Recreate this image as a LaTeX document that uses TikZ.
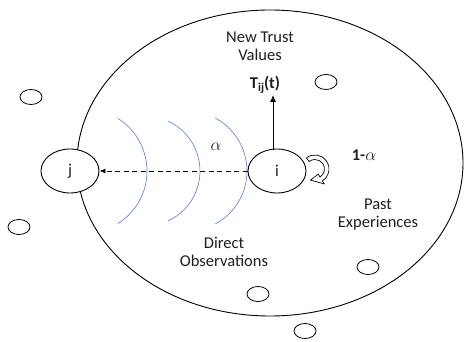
\documentclass[tikz,border=0pt]{standalone}
\usepackage{fontspec}
\setmainfont{Carlito}
\usetikzlibrary{shapes.geometric,arrows.meta,calc}
\definecolor{wave}{RGB}{95,125,190}
\definecolor{ink}{RGB}{30,30,30}
\begin{document}
\begin{tikzpicture}[x=1pt,y=-1pt,
  every node/.style={font=\fontsize{16.5}{18}\selectfont, text=ink},
  bignode/.style={ellipse, draw=black, line width=0.9pt, fill=white, minimum width=58pt, minimum height=44pt, inner sep=0pt},
  small/.style={ellipse, draw=black, line width=0.8pt, minimum width=22pt, minimum height=15pt, inner sep=0pt},
  label/.style={align=center, inner sep=0pt},
  waveline/.style={draw=wave, line width=0.6pt}]
\useasboundingbox (0,0) rectangle (464,342);
% big region
\draw[line width=0.9pt] (270,163) ellipse [x radius=193, y radius=153];
% waves
\draw[waveline] (85,171) ++(-58:62) arc[start angle=-58, end angle=58, radius=62];
\draw[waveline] (145,171) ++(-65:55) arc[start angle=-65, end angle=65, radius=55];
\draw[waveline] (187,171) ++(-62:60) arc[start angle=-62, end angle=62, radius=60];
% nodes
\node[bignode] (j) at (70,171) {j};
\node[bignode] (i) at (277,171) {i};
% small nodes
\node[small] (s1) at (31,97) {};
\node[small] (s2) at (326,82) {};
\node[small] (s3) at (19,227) {};
\node[small] (s4) at (368,267) {};
\node[small] (s5) at (258,294) {};
\node[small] (s6) at (305,331) {};
% labels
\node[label] (ntv) at (260,46) {New Trust\\Values};
\node[label] (T) at (265,85) {\bfseries T\raisebox{-3.5pt}{\fontsize{12}{12}\selectfont ij}(t)};
\node[label] (a) at (216,147) {$\alpha$};
\node[label] (b) at (364,155) {\bfseries 1-$\alpha$};
\node[label] (pe) at (378,215) {Past\\Experiences};
\node[label] (do) at (224,252) {Direct\\Observations};
% connectors
\coordinate (tip) at (273,95);
\coordinate (base) at (273,150);
\draw[line width=0.9pt, -{Latex[length=7pt,width=6pt]}] (base) -- (tip);
\draw[line width=0.9pt, dash pattern=on 5pt off 3.5pt, -{Latex[length=6pt,width=5pt]}] (i.west) -- (j.east);
% self loop block arrow
\coordinate (lc) at (315,169);
\draw[line width=0.7pt, fill=white] ($(lc)+(-128:14)$)
  arc[start angle=-128, end angle=58, radius=14]
  -- ($(lc)+(58:17.5)$) -- ($(lc)+(112:12)$) -- ($(lc)+(58:6)$) -- ($(lc)+(58:9.5)$)
  arc[start angle=58, end angle=-128, radius=9.5] -- cycle;
\end{tikzpicture}
\end{document}
